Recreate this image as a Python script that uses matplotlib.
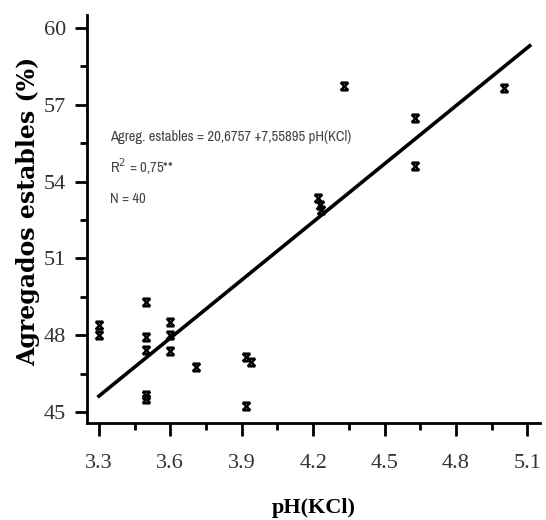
#!/usr/bin/env python3
"""Agregados estables vs. pH(KCl) scatter with linear fit."""

import matplotlib
matplotlib.use("Agg")
import matplotlib.pyplot as plt
import matplotlib.ticker as ticker
from matplotlib import font_manager
from matplotlib.path import Path

ph = [3.30, 3.30, 3.50, 3.50, 3.50, 3.50, 3.50, 3.60, 3.60, 3.60,
      3.71, 3.92, 3.94, 3.92, 4.22, 4.23, 4.235, 4.33, 4.63, 4.63, 5.00]
agregados = [48.40, 48.00, 49.30, 47.93, 47.42, 45.66, 45.52, 48.53, 48.00, 47.38,
             46.77, 47.16, 46.97, 45.23, 53.35, 53.10, 52.90, 57.73, 56.47, 54.60, 57.64]

# regression line y = a + b*x
intercept = 20.6757
slope = 7.55895
fit_x = [3.30, 5.11]

x_ticks = [3.3, 3.6, 3.9, 4.2, 4.5, 4.8, 5.1]
y_ticks = [45, 48, 51, 54, 57, 60]

eq_lines = ["Agreg. estables = 20,6757 +7,55895 pH(KCl)",
            r"R$^2$ = 0,75**",
            "N = 40"]

# hourglass-like marker: X with top and bottom bars
hourglass = Path([(-1, -1), (1, 1), (-1, 1), (1, -1), (-1, 1), (1, 1), (-1, -1), (1, -1)],
                 [Path.MOVETO, Path.LINETO, Path.MOVETO, Path.LINETO,
                  Path.MOVETO, Path.LINETO, Path.MOVETO, Path.LINETO])

serif = ["Liberation Serif", "DejaVu Serif"]


def narrow_font():
    """Find some condensed sans font if one is installed."""
    cands = []
    for f in font_manager.fontManager.ttflist:
        tag = (f.name + " " + f.fname).lower()
        if f.style != "normal" or f.weight not in (400, "normal", "regular"):
            continue
        if "narrow" in tag or "condensed" in tag or f.stretch in ("condensed", "semi-condensed",
                                                                  "extra-condensed", 375, 500, 625):
            if "serif" in tag and "sans" not in tag:
                continue
            cands.append(f)
    if not cands:
        return None, "Liberation Sans"
    pref = ["narrow", "dejavu", "noto", "roboto", "open"]
    cands.sort(key=lambda f: min([i for i, p in enumerate(pref) if p in (f.name + f.fname).lower()] + [99]))
    return cands[0].fname, cands[0].name


def main():
    fig = plt.figure(figsize=(5.46, 5.20), dpi=100)
    ax = fig.add_axes([0.1593, 0.1865, 0.8297, 0.7845])

    ax.scatter(ph, agregados, marker=hourglass, s=30, color="black", linewidths=1.8, zorder=3)
    fit_y = [intercept + slope * x for x in fit_x]
    ax.plot(fit_x, fit_y, color="black", linewidth=2.6, zorder=2)

    ax.set_xlim(3.25, 5.153)
    ax.set_ylim(44.57, 60.5)
    ax.set_xticks(x_ticks)
    ax.set_yticks(y_ticks)
    ax.xaxis.set_minor_locator(ticker.MultipleLocator(0.15))
    ax.yaxis.set_minor_locator(ticker.MultipleLocator(1.5))
    ax.xaxis.set_major_formatter(ticker.FormatStrFormatter("%.1f"))

    for side in ("top", "right"):
        ax.spines[side].set_visible(False)
    for side in ("left", "bottom"):
        ax.spines[side].set_linewidth(2)
    ax.tick_params(which="major", length=9, width=2, direction="out", pad=6)
    ax.tick_params(which="minor", length=5, width=2, direction="out")
    ax.tick_params(axis="x", which="major", pad=13)

    for lbl in ax.get_xticklabels() + ax.get_yticklabels():
        lbl.set_family(serif)
        lbl.set_fontsize(16)
        lbl.set_color("#333333")

    ax.set_xlabel("pH(KCl)", family=serif, fontsize=16, fontweight="bold", labelpad=18)
    ax.set_ylabel("Agregados estables (%)", family=["DejaVu Serif"], fontsize=17,
                  fontweight="bold", labelpad=2.5)
    ax.yaxis.label.set_y(0.52)

    fpath, fname = narrow_font()
    if fpath:
        fp = font_manager.FontProperties(fname=fpath, size=10.5)
    else:
        fp = font_manager.FontProperties(family=fname, size=9.5)
    ys = [137, 167, 199]
    for txt, yp in zip(eq_lines, ys):
        fig.text(110 / 546, 1 - yp / 520, txt, fontproperties=fp,
                 color="#444444", va="center", ha="left")

    fig.savefig("out.png", dpi=100)


if __name__ == "__main__":
    main()
